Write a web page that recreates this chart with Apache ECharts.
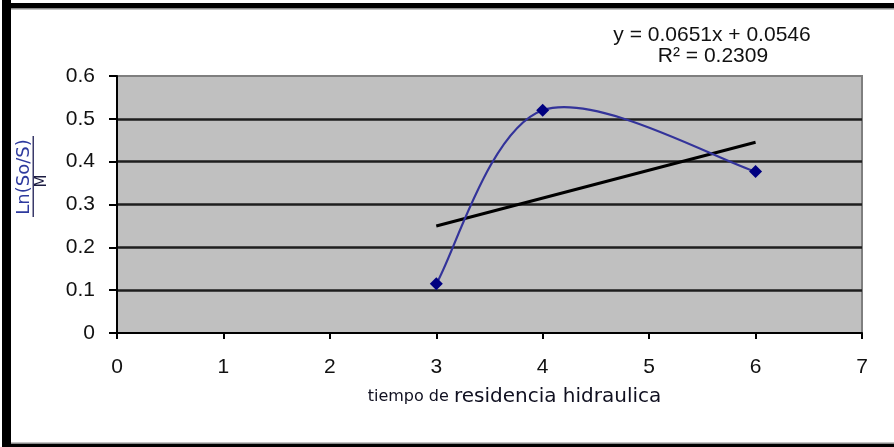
<!DOCTYPE html>
<html>
<head>
<meta charset="utf-8">
<script src="https://cdn.jsdelivr.net/npm/echarts@6/dist/echarts.min.js"></script>
<style>
  html, body { margin: 0; padding: 0; background: #ffffff; }
  #chart { width: 894px; height: 447px; }
</style>
</head>
<body>
<div id="chart"></div>
<script>
// Measured residence times and ln(So/S)/M values
const tiempo = [3, 4, 6];
const lnRatio = [0.115, 0.52, 0.377];

// Linear trend line fitted to the measurements
const slope = 0.0651;
const intercept = 0.0546;
const r2 = 0.2309;

// Axis ticks
const xTicks = [0, 1, 2, 3, 4, 5, 6, 7];
const yTicks = [0, 0.1, 0.2, 0.3, 0.4, 0.5, 0.6];

const series1 = tiempo.map((x, i) => [x, lnRatio[i]]);
const xFirst = tiempo[0];
const xLast = tiempo[tiempo.length - 1];
const trend = [xFirst, xLast].map(x => [x, slope * x + intercept]);

const chart = echarts.init(document.getElementById('chart'));
const labelFont = 'Arial, "Liberation Sans", sans-serif';

// Smoothed connecting line: cardinal spline (tension 1/6) between consecutive
// points, drawn in pixel space from the axis coordinates of the data.
function renderSmoothSegment(params, api) {
  const i = params.dataIndex;
  const n = series1.length;
  if (i >= n - 1) return null;
  const P = k => api.coord(series1[Math.max(0, Math.min(n - 1, k))]);
  const p0 = P(i - 1), p1 = P(i), p2 = P(i + 1), p3 = P(i + 2);
  const t = 1 / 6;
  return {
    type: 'bezierCurve',
    shape: {
      x1: p1[0], y1: p1[1],
      cpx1: p1[0] + (p2[0] - p0[0]) * t, cpy1: p1[1] + (p2[1] - p0[1]) * t,
      cpx2: p2[0] - (p3[0] - p1[0]) * t, cpy2: p2[1] - (p3[1] - p1[1]) * t,
      x2: p2[0], y2: p2[1]
    },
    style: { stroke: '#33339a', lineWidth: 2.2, fill: null }
  };
}

chart.setOption({
  animation: false,
  backgroundColor: '#ffffff',
  grid: {
    left: 117, right: 32, top: 76, bottom: 114,
    show: true,
    backgroundColor: '#c0c0c0',
    borderColor: '#7f7f7f',
    borderWidth: 2
  },
  xAxis: {
    type: 'value',
    min: xTicks[0], max: xTicks[xTicks.length - 1], interval: 1,
    axisLine: { show: true, onZero: false, lineStyle: { color: '#000', width: 2 } },
    axisTick: { show: true, length: 6, lineStyle: { color: '#000', width: 2 } },
    axisLabel: { color: '#111', fontSize: 21, fontFamily: labelFont, margin: 24 },
    splitLine: { show: false },
    name: '{a|tiempo de }{b|residencia hidraulica}',
    nameLocation: 'middle',
    nameGap: 54,
    nameTextStyle: {
      padding: [0, 0, 0, 50],
      rich: {
        a: { fontSize: 16, fontFamily: '"DejaVu Sans", sans-serif', color: '#101020' },
        b: { fontSize: 20, fontFamily: '"DejaVu Sans", sans-serif', color: '#101020' }
      }
    }
  },
  yAxis: {
    type: 'value',
    min: yTicks[0], max: yTicks[yTicks.length - 1], interval: 0.1,
    axisLine: { show: true, lineStyle: { color: '#000', width: 2 } },
    axisTick: { show: true, length: 8, lineStyle: { color: '#000', width: 2 } },
    axisLabel: { color: '#111', fontSize: 21, fontFamily: labelFont, margin: 22 },
    splitLine: {
      show: true, showMinLine: false, showMaxLine: false,
      lineStyle: { color: '#1e1e1e', width: 2.5 }
    }
  },
  series: [
    {
      type: 'line',
      data: trend,
      symbol: 'none',
      lineStyle: { color: '#000', width: 3 },
      z: 3
    },
    {
      type: 'custom',
      data: series1,
      renderItem: renderSmoothSegment,
      z: 4
    },
    {
      type: 'scatter',
      data: series1,
      symbol: 'diamond',
      symbolSize: 13,
      itemStyle: { color: '#000080', opacity: 1 },
      z: 5
    }
  ],
  graphic: [
    // outer frame
    { type: 'rect', shape: { x: 2, y: 0, width: 9, height: 447 }, style: { fill: '#000' } },
    { type: 'rect', shape: { x: 2, y: 3, width: 892, height: 5 }, style: { fill: '#000' } },
    { type: 'rect', shape: { x: 11, y: 8, width: 883, height: 1.5 }, style: { fill: '#8a8a8a' } },
    { type: 'rect', shape: { x: 2, y: 444, width: 892, height: 3 }, style: { fill: '#000' } },
    { type: 'rect', shape: { x: 11, y: 442.5, width: 883, height: 1.5 }, style: { fill: '#8a8a8a' } },
    // trend line equation
    {
      type: 'text',
      style: {
        text: 'y = ' + slope + 'x + ' + intercept,
        x: 712, y: 35, textAlign: 'center', textVerticalAlign: 'middle',
        font: '21px ' + labelFont, fill: '#111'
      }
    },
    {
      type: 'text',
      style: {
        text: 'R\u00b2 = ' + r2,
        x: 713, y: 56, textAlign: 'center', textVerticalAlign: 'middle',
        font: '21px ' + labelFont, fill: '#111'
      }
    },
    // y axis title written as a fraction
    {
      type: 'text', x: 24, y: 177, rotation: Math.PI / 2,
      style: {
        text: 'Ln(So/S)', x: 0, y: 0, textAlign: 'center', textVerticalAlign: 'middle',
        font: '18px "DejaVu Sans", sans-serif', fill: '#2e3a9e'
      }
    },
    {
      type: 'rect', shape: { x: 32.5, y: 136, width: 1.5, height: 81 }, style: { fill: '#3a3a6a' }
    },
    {
      type: 'text', x: 42, y: 181, rotation: Math.PI / 2,
      style: {
        text: 'M', x: 0, y: 0, textAlign: 'center', textVerticalAlign: 'middle',
        font: '15px "DejaVu Sans", sans-serif', fill: '#1a1a40'
      }
    }
  ]
});
</script>
</body>
</html>
